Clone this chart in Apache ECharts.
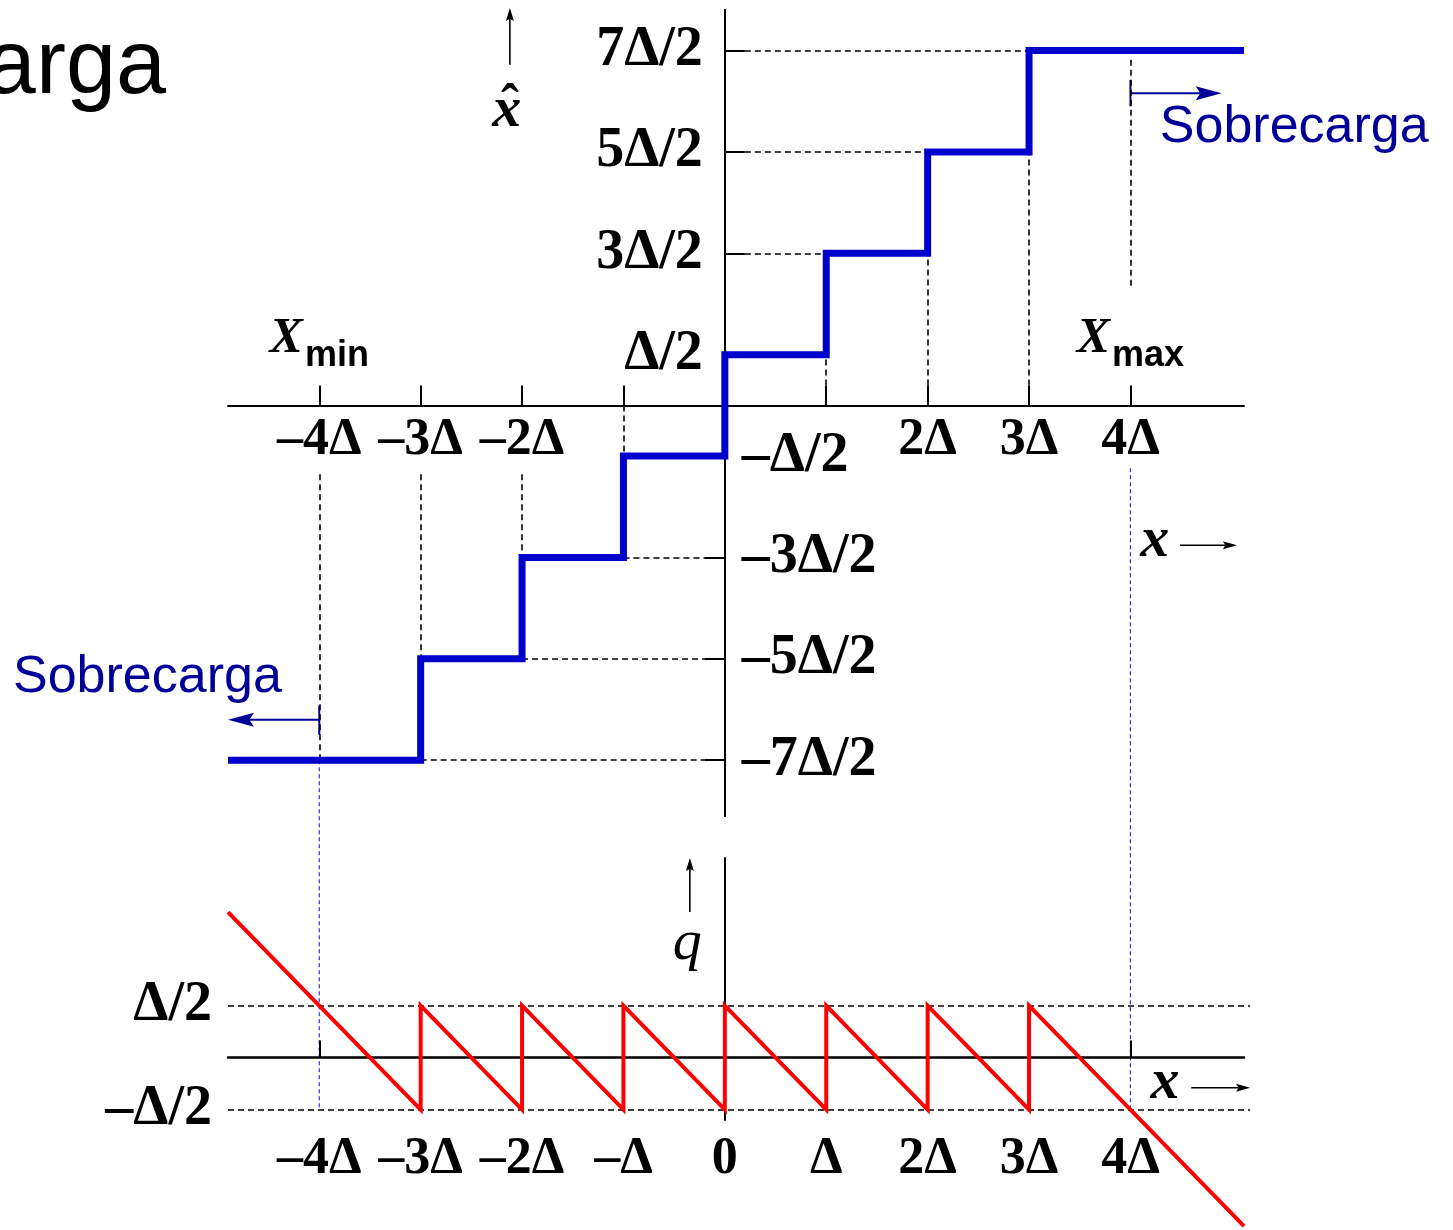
<!DOCTYPE html>
<html>
<head>
<meta charset="utf-8">
<script src="https://cdn.jsdelivr.net/npm/echarts@6/dist/echarts.min.js"></script>
<style>
  html, body { margin: 0; padding: 0; background: #fff; }
  #chart { width: 1453px; height: 1230px; }
</style>
</head>
<body>
<div id="chart"></div>
<script>
// Uniform mid-rise quantizer with step Δ; every x value is expressed in units of Δ.
const decisionLevels = [-3, -2, -1, 0, 1, 2, 3];
const outputLevels = [-3.5, -2.5, -1.5, -0.5, 0.5, 1.5, 2.5, 3.5];
const inputExtent = [-4.9, 5.12];
const overloadPoints = [-4, 4];          // X_min, X_max

// Quantization error q = x̂ − x at the corners of the sawtooth
const errorX = [-4.9, -3, -3, -2, -2, -1, -1, 0, 0, 1, 1, 2, 2, 3, 3, 5.12];
const errorQ = [1.4, -0.5, 0.5, -0.5, 0.5, -0.5, 0.5, -0.5, 0.5, -0.5, 0.5, -0.5, 0.5, -0.5, 0.5, -1.62];
const errorBounds = [-0.5, 0.5];

// Tick positions and their labels
const topXTicks = [-4, -3, -2, -1, 1, 2, 3, 4];
const topXLabels = { '-4': '–4Δ', '-3': '–3Δ', '-2': '–2Δ', '2': '2Δ', '3': '3Δ', '4': '4Δ' };
const posLevelLabels = { '0.5': 'Δ/2', '1.5': '3Δ/2', '2.5': '5Δ/2', '3.5': '7Δ/2' };
const negLevelLabels = { '-0.5': '–Δ/2', '-1.5': '–3Δ/2', '-2.5': '–5Δ/2', '-3.5': '–7Δ/2' };
const bottomXLabels = { '-4': '–4Δ', '-3': '–3Δ', '-2': '–2Δ', '-1': '–Δ', '0': '0', '1': 'Δ', '2': '2Δ', '3': '3Δ', '4': '4Δ' };
const errorLabels = { '-0.5': '–Δ/2', '0.5': 'Δ/2' };

const SERIF = "'Liberation Serif', 'Times New Roman', serif";
const SANS = "'Liberation Sans', Arial, sans-serif";
const BLUE = '#0000cc';
const NAVY = '#000099';
const DASH = [6, 4];
const labelClear = -0.68;                // guides start below the tick labels

// Plot areas
const topGrid = { left: 228, top: 10, width: 1016, height: 806 };
const bottomGrid = { left: 228, top: 858, width: 1016, height: 262 };
const topYRange = [-4.05, 3.9];
const bottomYRange = [-0.6, 1.92];

// distance of the zero lines from the grid edges, so the top axes cross at the origin
const zeroFromLeft = topGrid.width * (0 - inputExtent[0]) / (inputExtent[1] - inputExtent[0]);
const zeroFromBottom = topGrid.height * (0 - topYRange[0]) / (topYRange[1] - topYRange[0]);

const keys = obj => Object.keys(obj).map(Number);
const fmt = table => v => table[String(v)] || '';

// Staircase x̂(x)
const stairData = [[inputExtent[0], outputLevels[0]]];
decisionLevels.forEach((t, i) => stairData.push([t, outputLevels[i]], [t, outputLevels[i + 1]]));
stairData.push([inputExtent[1], outputLevels[outputLevels.length - 1]]);

const errorData = errorX.map((x, i) => [x, errorQ[i]]);

// Dashed guides from the axes to the staircase corners
const guides = [];
decisionLevels.forEach((t, i) => {
  if (t > 0) {
    guides.push({ coords: [[t, 0], [t, outputLevels[i]]] });
    if (outputLevels[i + 1] > 1) guides.push({ coords: [[0, outputLevels[i + 1]], [t, outputLevels[i + 1]]] });
  } else if (t < 0) {
    const start = topXLabels[String(t)] ? labelClear : 0;
    guides.push({ coords: [[t, start], [t, outputLevels[i + 1]]] });
    guides.push({ coords: [[t, outputLevels[i]], [0, outputLevels[i]]] });
  }
});
// overload markers
guides.push({ coords: [[overloadPoints[0], labelClear], [overloadPoints[0], outputLevels[0]]] });
guides.push({ coords: [[overloadPoints[1], 3.41], [overloadPoints[1], 1.14]] });

const boundGuides = errorBounds.map(b => ({ coords: [[inputExtent[0], b], [5.18, b]] }));

const axisLineStyle = { color: '#000', width: 2 };
const labelFont = { color: '#000', fontFamily: SERIF, fontWeight: 'bold', fontSize: 52 };
const fracFont = { ...labelFont, fontSize: 56 };

const option = {
  animation: false,
  backgroundColor: '#fff',
  grid: [topGrid, bottomGrid],
  xAxis: [
    {
      gridIndex: 0, type: 'value', position: 'bottom', offset: -zeroFromBottom,
      min: inputExtent[0], max: inputExtent[1],
      axisLine: { onZero: false, lineStyle: axisLineStyle },
      axisTick: { show: true, inside: true, length: 20, customValues: topXTicks, lineStyle: axisLineStyle },
      axisLabel: { customValues: keys(topXLabels), formatter: fmt(topXLabels), margin: 9, ...labelFont },
      splitLine: { show: false }
    },
    {
      gridIndex: 1, type: 'value', min: inputExtent[0], max: inputExtent[1],
      axisLine: { onZero: true, lineStyle: { color: '#000', width: 2.5 } },
      axisTick: { show: true, inside: true, length: 17, customValues: overloadPoints, lineStyle: axisLineStyle },
      axisLabel: { show: false },
      splitLine: { show: false }
    },
    {
      gridIndex: 1, type: 'value', position: 'bottom', min: inputExtent[0], max: inputExtent[1],
      axisLine: { show: false, onZero: false },
      axisTick: { show: false },
      axisLabel: { customValues: keys(bottomXLabels), formatter: fmt(bottomXLabels), margin: 14, ...labelFont },
      splitLine: { show: false }
    }
  ],
  yAxis: [
    {
      gridIndex: 0, type: 'value', position: 'left', offset: -zeroFromLeft,
      min: topYRange[0], max: topYRange[1],
      axisLine: { onZero: false, lineStyle: axisLineStyle },
      axisTick: { show: true, inside: true, length: 20, customValues: keys(posLevelLabels), lineStyle: axisLineStyle },
      axisLabel: { customValues: keys(posLevelLabels), formatter: fmt(posLevelLabels), margin: 22, ...fracFont },
      splitLine: { show: false }
    },
    {
      gridIndex: 0, type: 'value', position: 'left', offset: -zeroFromLeft,
      min: topYRange[0], max: topYRange[1],
      axisLine: { onZero: false, lineStyle: axisLineStyle },
      axisTick: { show: true, inside: false, length: 20, customValues: keys(negLevelLabels), lineStyle: axisLineStyle },
      axisLabel: { inside: true, customValues: keys(negLevelLabels), formatter: fmt(negLevelLabels), margin: 17, ...fracFont },
      splitLine: { show: false }
    },
    {
      gridIndex: 1, type: 'value', position: 'left', min: bottomYRange[0], max: bottomYRange[1],
      axisLine: { onZero: true, lineStyle: axisLineStyle },
      axisTick: { show: false },
      axisLabel: { show: false },
      splitLine: { show: false }
    },
    {
      gridIndex: 1, type: 'value', position: 'left', min: bottomYRange[0], max: bottomYRange[1],
      axisLine: { show: false, onZero: false },
      axisTick: { show: false },
      axisLabel: { customValues: keys(errorLabels), formatter: fmt(errorLabels), margin: 16, ...fracFont },
      splitLine: { show: false }
    }
  ],
  series: [
    {
      name: 'guías', type: 'lines', coordinateSystem: 'cartesian2d', xAxisIndex: 0, yAxisIndex: 0,
      silent: true, clip: false, data: guides,
      lineStyle: { color: '#000', width: 1.6, type: DASH, opacity: 1 }
    },
    {
      name: 'límites de q', type: 'lines', coordinateSystem: 'cartesian2d', xAxisIndex: 1, yAxisIndex: 2,
      silent: true, clip: false, data: boundGuides,
      lineStyle: { color: '#000', width: 1.6, type: DASH, opacity: 1 }
    },
    {
      name: 'x̂', type: 'line', xAxisIndex: 0, yAxisIndex: 0, data: stairData,
      symbol: 'none', clip: false, silent: true,
      lineStyle: { color: BLUE, width: 7, join: 'miter', cap: 'butt' }
    },
    {
      name: 'q', type: 'line', xAxisIndex: 1, yAxisIndex: 2, data: errorData,
      symbol: 'none', clip: false, silent: true,
      lineStyle: { color: '#ff0000', width: 4, join: 'miter' }
    }
  ]
};

const chart = echarts.init(document.getElementById('chart'));
chart.setOption(option);

// ---- annotations placed in data coordinates ----
const P0 = (x, y) => chart.convertToPixel({ gridIndex: 0 }, [x, y]);
const P1 = (x, y) => chart.convertToPixel({ gridIndex: 1 }, [x, y]);

function seg(a, b, color, width, dash) {
  return { type: 'line', silent: true, shape: { x1: a[0], y1: a[1], x2: b[0], y2: b[1] },
           style: { stroke: color, lineWidth: width, lineDash: dash || null } };
}
function arrow(from, to, color, width, len, half) {
  const dx = to[0] - from[0], dy = to[1] - from[1];
  const L = Math.hypot(dx, dy), ux = dx / L, uy = dy / L, nx = -uy, ny = ux;
  const bx = to[0] - ux * len, by = to[1] - uy * len;
  const nxp = to[0] - ux * len * 0.82, nyp = to[1] - uy * len * 0.82;
  return [
    seg(from, [nxp, nyp], color, width),
    { type: 'polygon', silent: true,
      shape: { points: [to, [bx + nx * half, by + ny * half], [nxp, nyp], [bx - nx * half, by - ny * half]] },
      style: { fill: color } }
  ];
}
function text(pos, str, font, color, align) {
  return { type: 'text', silent: true, x: pos[0], y: pos[1],
           style: { text: str, font: font, fill: color || '#000', align: align || 'center', verticalAlign: 'middle' } };
}
function subscripted(pos, main, sub) {
  return { type: 'text', silent: true, x: pos[0], y: pos[1],
    style: {
      text: '{m|' + main + '}{s|' + sub + '}', align: 'center', verticalAlign: 'middle',
      rich: {
        m: { fontFamily: SERIF, fontStyle: 'italic', fontWeight: 'bold', fontSize: 50, verticalAlign: 'bottom', padding: [0, 2, 10, 0], fill: '#000' },
        s: { fontFamily: SANS, fontWeight: 'bold', fontSize: 36, verticalAlign: 'bottom', fill: '#000' }
      }
    } };
}

const varFont = 'italic bold 58px ' + SERIF;
const elements = [
  // heading fragment at the top-left corner
  text([166, 68], 'Sobrecarga', '90px ' + SANS, '#000', 'right'),

  // overload regions
  text(P0(4.29, 2.74), 'Sobrecarga', '52px ' + SANS, NAVY, 'left'),
  seg(P0(4, 3.21), P0(4, 2.95), NAVY, 2),
  ...arrow(P0(4, 3.08), P0(4.9, 3.08), NAVY, 2, 26, 7),
  text([13, 678], 'Sobrecarga', '52px ' + SANS, NAVY, 'left'),
  seg(P0(-4, -2.96), P0(-4, -3.25), NAVY, 2),
  ...arrow(P0(-4, -3.1), P0(-4.9, -3.1), NAVY, 2, 26, 7),

  // overload thresholds carried down to the error plot
  seg(P0(overloadPoints[0], outputLevels[0]), P1(overloadPoints[0], errorBounds[0]), '#3333cc', 1.2, [4, 3]),
  seg(P0(overloadPoints[1], -0.62), P1(overloadPoints[1], errorBounds[0]), '#3333cc', 1.2, [4, 3]),

  subscripted(P0(-4, 0.6), 'X', 'min'),
  subscripted(P0(4, 0.6), 'X', 'max'),

  // x̂ axis caption
  ...arrow(P0(-2.12, 3.36), P0(-2.12, 3.92), '#000', 1.6, 13, 4),
  text(P0(-2.15, 2.90), 'x', varFont),
  text(P0(-2.12, 2.93), 'ˆ', 'bold 54px ' + SERIF),

  // x captions
  text(P0(4.24, -1.34), 'x', varFont),
  ...arrow(P0(4.49, -1.38), P0(5.05, -1.38), '#000', 1.6, 14, 4),
  text(P1(4.34, -0.24), 'x', varFont),
  ...arrow(P1(4.6, -0.29), P1(5.18, -0.29), '#000', 1.6, 14, 4),

  // q caption
  text(P1(-0.37, 1.1), 'q', 'italic 58px ' + SERIF),
  ...arrow(P1(-0.345, 1.40), P1(-0.345, 1.92), '#000', 1.6, 13, 4)
];

chart.setOption({ graphic: { elements: elements } });
</script>
</body>
</html>
